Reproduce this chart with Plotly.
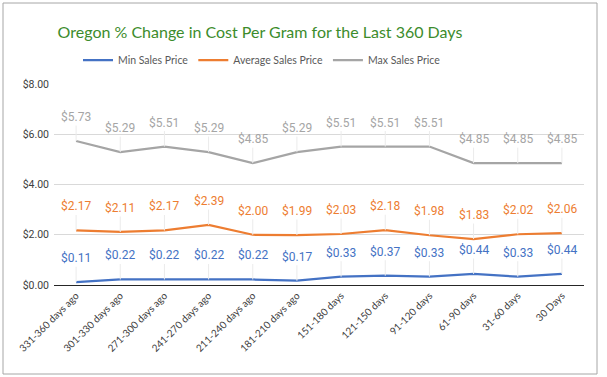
import plotly.graph_objects as go

categories = ["331-360 days ago", "301-330 days ago", "271-300 days ago", "241-270 days ago",
              "211-240 days ago", "181-210 days ago", "151-180 days", "121-150 days",
              "91-120 days", "61-90 days", "31-60 days", "30 Days"]
min_price = [0.11, 0.22, 0.22, 0.22, 0.22, 0.17, 0.33, 0.37, 0.33, 0.44, 0.33, 0.44]
avg_price = [2.17, 2.11, 2.17, 2.39, 2.00, 1.99, 2.03, 2.18, 1.98, 1.83, 2.02, 2.06]
max_price = [5.73, 5.29, 5.51, 5.29, 4.85, 5.29, 5.51, 5.51, 5.51, 4.85, 4.85, 4.85]
y_ticks = [0, 2, 4, 6, 8]
y_tick_labels = ["$0.00", "$2.00", "$4.00", "$6.00", "$8.00"]

series = [
    ("Min Sales Price", min_price, "#4472C4"),
    ("Average Sales Price", avg_price, "#ED7D31"),
    ("Max Sales Price", max_price, "#A5A5A5"),
]

fig = go.Figure()
annotations = []
for name, vals, color in series:
    fig.add_trace(go.Scatter(x=categories, y=vals, mode="lines", name=name,
                             line=dict(color=color, width=2.25), hoverinfo="skip"))
    for c, v in zip(categories, vals):
        annotations.append(dict(x=c, y=v, xref="x", yref="y", text=f"${v:.2f}",
                                showarrow=True, ax=0, ay=-24, arrowhead=0, arrowwidth=1,
                                arrowcolor="#ebebeb", standoff=0, startstandoff=0,
                                font=dict(family="Roboto", size=12, color=color)))

W, H = 607, 377
L, R, T, B = 54, 23, 84, 92
pw, ph = W - L - R, H - T - B

def px(x):
    return (x - L) / pw

def py(y):
    return (H - B - y) / ph

fig.update_layout(
    width=W, height=H,
    margin=dict(l=L, r=R, t=T, b=B, autoexpand=False),
    paper_bgcolor="white", plot_bgcolor="white",
    title=dict(text="Oregon % Change in Cost Per Gram for the Last 360 Days",
               x=260 / W, xanchor="center", xref="container",
               y=1 - 32 / H, yanchor="middle", yref="container",
               font=dict(family="Lato", size=16, color="#3C8C2C")),
    legend=dict(orientation="h", xref="container", yref="container",
                x=262 / W, xanchor="center", y=1 - 60 / H, yanchor="middle",
                font=dict(family="Lato", size=10.5, color="#595959"),
                itemwidth=30, bgcolor="rgba(0,0,0,0)"),
    xaxis=dict(type="category", showgrid=False, showline=True, linecolor="#262626",
               linewidth=1, tickangle=-45, ticks="", automargin=False,
               tickfont=dict(family="Lato", size=10, color="#404040"),
               range=[-0.5, len(categories) - 0.5], fixedrange=True),
    yaxis=dict(range=[0, 8], tickvals=y_ticks, ticktext=y_tick_labels, automargin=False,
               showgrid=True, gridcolor="#d9d9d9", gridwidth=1,
               zeroline=True, zerolinecolor="#262626", zerolinewidth=1,
               tickfont=dict(family="Roboto", size=10.5, color="#404040"),
               ticks="", ticklabelstandoff=4, fixedrange=True),
    annotations=annotations,
    shapes=[dict(type="rect", xref="paper", yref="paper",
                 x0=px(3), x1=px(597), y0=py(374), y1=py(3),
                 line=dict(color="#a6a6a6", width=1), layer="below")],
    showlegend=True,
)

fig.write_html("out.html", config={"displayModeBar": False},
               post_script="document.body.style.margin='0';document.body.style.overflow='hidden';")
